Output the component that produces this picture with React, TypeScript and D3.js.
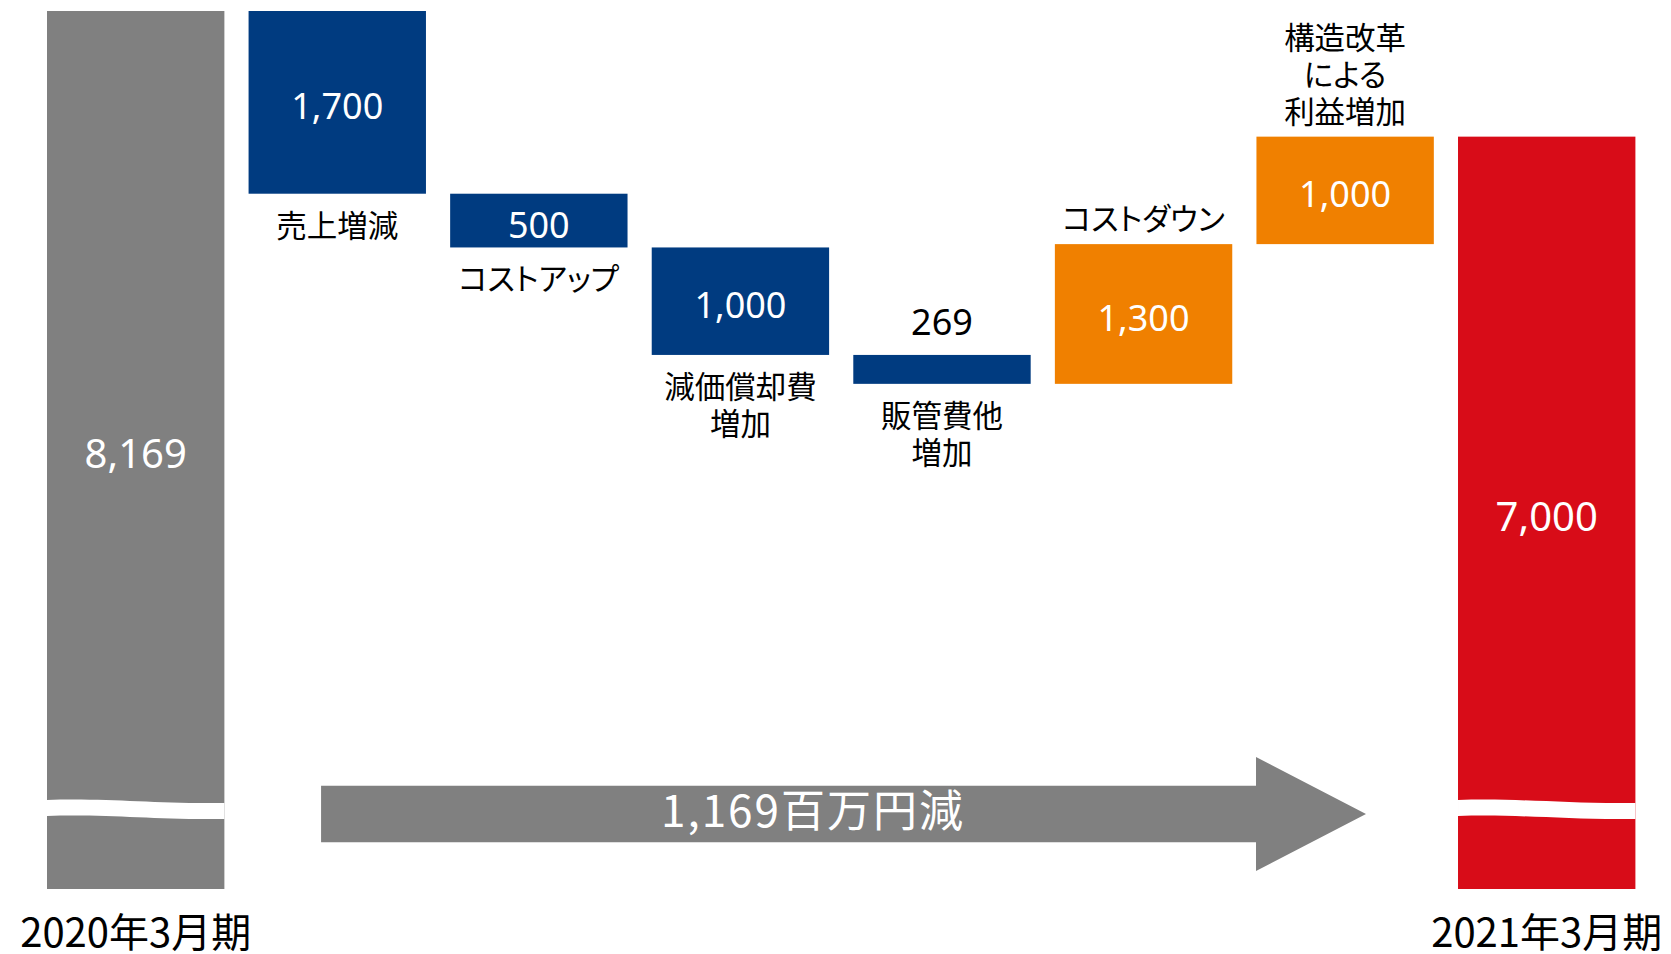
import React from "react";
import * as d3 from "d3";

// ---- data ----
const categories = [
  "2020年3月期",
  "売上増減",
  "コストアップ",
  "減価償却費増加",
  "販管費他増加",
  "コストダウン",
  "構造改革による利益増加",
  "2021年3月期",
];
const categoryLines = [
  ["2020年3月期"],
  ["売上増減"],
  ["コストアップ"],
  ["減価償却費", "増加"],
  ["販管費他", "増加"],
  ["コストダウン"],
  ["構造改革", "による", "利益増加"],
  ["2021年3月期"],
];
const startValue = 8169;
const changes = [-1700, -500, -1000, -269, 1300, 1000];
const endValue = 7000;
const arrowLabel = "1,169百万円減";

// ---- style ----
const W = 1671;
const H = 954;
const GRAY = "#808080";
const BLUE = "#003B80";
const ORANGE = "#F08000";
const RED = "#D80C18";
const FONT = '"Noto Sans CJK JP", "Noto Sans", sans-serif';
const NUM_FONT = '"Noto Sans", "Noto Sans CJK JP", sans-serif';

type Bar = { cat: string; lo: number; hi: number; kind: "total" | "end" | "dec" | "inc"; value: number; lines: string[] };

function buildBars(): Bar[] {
  const bars: Bar[] = [];
  bars.push({ cat: categories[0], lo: 0, hi: startValue, kind: "total", value: startValue, lines: categoryLines[0] });
  let run = startValue;
  changes.forEach((c, i) => {
    const next = run + c;
    bars.push({
      cat: categories[i + 1],
      lo: Math.min(run, next),
      hi: Math.max(run, next),
      kind: c < 0 ? "dec" : "inc",
      value: Math.abs(c),
      lines: categoryLines[i + 1],
    });
    run = next;
  });
  bars.push({ cat: categories[7], lo: 0, hi: endValue, kind: "end", value: endValue, lines: categoryLines[7] });
  return bars;
}

export default function App() {
  const bars = buildBars();
  const x = d3.scaleBand<string>().domain(categories).range([47, 1635.4]).paddingInner(0.12).paddingOuter(0);
  const y = d3.scaleLinear().domain([0, startValue]).range([889, 11]);
  const bw = x.bandwidth();
  const fmt = d3.format(",");
  const colorOf = (b: Bar) => (b.kind === "total" ? GRAY : b.kind === "end" ? RED : b.kind === "dec" ? BLUE : ORANGE);

  const BREAK_AT = 740;
  const breakPath = (x0: number) => {
    const x1 = x0 + bw;
    const yc = y(BREAK_AT);
    const t = yc - 9.5;
    const b = yc + 6.5;
    return `M${x0},${t} C${x0 + bw * 0.35},${t - 2} ${x0 + bw * 0.6},${t + 4} ${x1},${t + 3} L${x1},${b + 3} C${x0 + bw * 0.6},${b + 4} ${x0 + bw * 0.35},${b - 2} ${x0},${b} Z`;
  };

  // arrow geometry
  const ay = y(698);
  const aLeft = (x(categories[1]) as number) + 72.5;
  const aTip = (x(categories[7]) as number) - 92;
  const aHeadBase = aTip - 110;
  const bodyH = 28.3;
  const headH = 57;
  const arrowPath = `M${aLeft},${ay - bodyH} L${aHeadBase},${ay - bodyH} L${aHeadBase},${ay - headH} L${aTip},${ay} L${aHeadBase},${ay + headH} L${aHeadBase},${ay + bodyH} L${aLeft},${ay + bodyH} Z`;

  return (
    <svg
      width={W}
      height={H}
      style={{ position: "absolute", left: 0, top: 0, background: "#fff" }}
      fontFamily={FONT}
    >
      {bars.map((b) => {
        const bx = x(b.cat) as number;
        const top = y(b.hi);
        const bot = y(b.lo);
        const cx = bx + bw / 2;
        const h = bot - top;
        const isTotal = b.kind === "total" || b.kind === "end";
        const vfs = isTotal ? 40 : 36;
        const inside = h > 45;
        const n = b.lines.length;
        return (
          <g key={b.cat}>
            <rect x={bx} y={top} width={bw} height={h} fill={colorOf(b)} />
            {isTotal && <path d={breakPath(bx)} fill="#fff" />}
            {inside ? (
              <text
                x={cx}
                y={(top + bot) / 2 + 0.36 * vfs + 4}
                textAnchor="middle"
                fontSize={vfs}
                fontFamily={NUM_FONT}
                fill="#fff"
              >
                {fmt(b.value)}
              </text>
            ) : (
              <text x={cx} y={top - 20} textAnchor="middle" fontSize={36} fontFamily={NUM_FONT} fill="#000">
                {fmt(b.value)}
              </text>
            )}
            {isTotal ? (
              <text x={cx} y={947} textAnchor="middle" fontSize={40} fill="#000">
                {b.lines[0]}
              </text>
            ) : (
              <text
                x={cx}
                y={b.kind === "dec" ? bot + 43 : top - 14 - (n - 1) * 37}
                textAnchor="middle"
                fontSize={30.5}
                fill="#000"
                style={{ fontFeatureSettings: '"palt"' }}
              >
                {b.lines.map((ln, j) => (
                  <tspan key={j} x={cx} dy={j === 0 ? 0 : 37}>
                    {ln}
                  </tspan>
                ))}
              </text>
            )}
          </g>
        );
      })}
      <path d={arrowPath} fill={GRAY} />
      <text x={813} y={ay + 13} textAnchor="middle" fontSize={44} fill="#fff" letterSpacing={2}>
        {arrowLabel}
      </text>
    </svg>
  );
}
